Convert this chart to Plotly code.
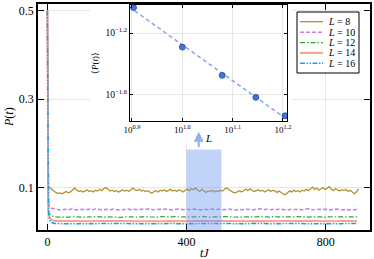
import numpy as np
import plotly.graph_objects as go

# ---------------- data ----------------
L_values = [8, 10, 12, 14, 16]
labels = ["<i>L</i> = 8", "<i>L</i> = 10", "<i>L</i> = 12", "<i>L</i> = 14", "<i>L</i> = 16"]

t8_early = [0, 1, 2, 3, 5, 8]
p8_early = [0.5, 0.28, 0.13, 0.104, 0.101, 0.099]
t8_late = np.arange(12, 895, 6)
p8_late = [
    0.097, 0.093, 0.089, 0.087, 0.088, 0.086, 0.089, 0.091, 0.088, 0.090,
    0.094, 0.099, 0.095, 0.091, 0.093, 0.090, 0.092, 0.095, 0.091, 0.093,
    0.090, 0.094, 0.092, 0.096, 0.093, 0.098, 0.100, 0.095, 0.092, 0.094,
    0.091, 0.093, 0.090, 0.092, 0.095, 0.092, 0.094, 0.091, 0.096, 0.099,
    0.095, 0.093, 0.096, 0.092, 0.094, 0.091, 0.093, 0.089, 0.087, 0.091,
    0.093, 0.090, 0.094, 0.092, 0.095, 0.091, 0.093, 0.096, 0.092, 0.094,
    0.091, 0.095, 0.093, 0.090, 0.094, 0.096, 0.093, 0.097, 0.095, 0.099,
    0.094, 0.091, 0.096, 0.092, 0.089, 0.093, 0.091, 0.094, 0.090, 0.093,
    0.091, 0.094, 0.092, 0.097, 0.099, 0.095, 0.092, 0.089, 0.088, 0.091,
    0.093, 0.090, 0.094, 0.096, 0.093, 0.097, 0.094, 0.091, 0.093, 0.095,
    0.092, 0.094, 0.090, 0.093, 0.095, 0.091, 0.094, 0.092, 0.089, 0.092,
    0.088, 0.085, 0.084, 0.089, 0.092, 0.090, 0.094, 0.091, 0.093, 0.090,
    0.094, 0.092, 0.096, 0.093, 0.098, 0.101, 0.096, 0.099, 0.094, 0.097,
    0.100, 0.095, 0.098, 0.102, 0.096, 0.093, 0.097, 0.094, 0.092, 0.095,
    0.093, 0.096, 0.091, 0.094, 0.089, 0.086, 0.090, 0.097,
]

t_early = [0, 1, 2, 3, 5, 8, 12, 16]
p10_early = [0.5, 0.24, 0.11, 0.075, 0.060, 0.055, 0.053, 0.052]
p12_early = [0.5, 0.22, 0.095, 0.062, 0.045, 0.039, 0.036, 0.035]
p14_early = [0.5, 0.21, 0.085, 0.052, 0.036, 0.030, 0.027, 0.0255]
p16_early = [0.5, 0.20, 0.078, 0.046, 0.030, 0.024, 0.021, 0.0195]

t_mid = np.arange(20, 891, 10)
p10_late = [
    0.0520, 0.0505, 0.0492, 0.0510, 0.0498, 0.0515, 0.0502, 0.0490, 0.0508, 0.0496,
    0.0512, 0.0500, 0.0518, 0.0503, 0.0493, 0.0509, 0.0497, 0.0514, 0.0501, 0.0489,
    0.0506, 0.0516, 0.0499, 0.0508, 0.0494, 0.0511, 0.0503, 0.0519, 0.0505, 0.0495,
    0.0510, 0.0498, 0.0513, 0.0502, 0.0491, 0.0507, 0.0517, 0.0500, 0.0509, 0.0496,
    0.0512, 0.0504, 0.0493, 0.0508, 0.0499, 0.0515, 0.0502, 0.0510, 0.0497, 0.0506,
    0.0514, 0.0501, 0.0490, 0.0507, 0.0498, 0.0512, 0.0503, 0.0495, 0.0509, 0.0520,
    0.0504, 0.0511, 0.0497, 0.0508, 0.0501, 0.0516, 0.0499, 0.0493, 0.0510, 0.0502,
    0.0513, 0.0498, 0.0507, 0.0521, 0.0503, 0.0496, 0.0511, 0.0500, 0.0509, 0.0494,
    0.0506, 0.0515, 0.0501, 0.0498, 0.0512, 0.0504, 0.0495, 0.0508,
]
p12_late = [
    0.0342, 0.0333, 0.0328, 0.0337, 0.0331, 0.0340, 0.0334, 0.0327, 0.0336, 0.0330,
    0.0339, 0.0332, 0.0343, 0.0335, 0.0329, 0.0338, 0.0333, 0.0341, 0.0330, 0.0326,
    0.0335, 0.0340, 0.0332, 0.0337, 0.0328, 0.0336, 0.0342, 0.0334, 0.0330, 0.0338,
    0.0333, 0.0341, 0.0335, 0.0327, 0.0336, 0.0344, 0.0332, 0.0337, 0.0329, 0.0339,
    0.0334, 0.0330, 0.0338, 0.0342, 0.0333, 0.0328, 0.0336, 0.0340, 0.0331, 0.0337,
    0.0343, 0.0334, 0.0329, 0.0338, 0.0332, 0.0340, 0.0335, 0.0327, 0.0336, 0.0341,
    0.0333, 0.0338, 0.0330, 0.0344, 0.0336, 0.0331, 0.0339, 0.0334, 0.0328, 0.0337,
    0.0342, 0.0333, 0.0339, 0.0331, 0.0336, 0.0343, 0.0335, 0.0329, 0.0338, 0.0332,
    0.0340, 0.0334, 0.0337, 0.0330, 0.0341, 0.0335, 0.0339, 0.0333,
]

t_coarse = np.arange(20, 891, 15)
p14_late = [
    0.0245, 0.0242, 0.0239, 0.0243, 0.0240, 0.0244, 0.0241, 0.0238, 0.0242, 0.0245,
    0.0240, 0.0243, 0.0239, 0.0242, 0.0244, 0.0240, 0.0238, 0.0243, 0.0241, 0.0245,
    0.0242, 0.0239, 0.0244, 0.0240, 0.0243, 0.0241, 0.0238, 0.0242, 0.0245, 0.0240,
    0.0243, 0.0239, 0.0241, 0.0244, 0.0242, 0.0238, 0.0243, 0.0240, 0.0245, 0.0241,
    0.0239, 0.0242, 0.0244, 0.0240, 0.0243, 0.0238, 0.0241, 0.0245, 0.0242, 0.0239,
    0.0243, 0.0240, 0.0244, 0.0241, 0.0238, 0.0242, 0.0245, 0.0240, 0.0243,
]
p16_late = [
    0.0187, 0.0184, 0.0181, 0.0185, 0.0182, 0.0186, 0.0183, 0.0180, 0.0184, 0.0187,
    0.0182, 0.0185, 0.0181, 0.0184, 0.0186, 0.0182, 0.0180, 0.0185, 0.0183, 0.0187,
    0.0184, 0.0181, 0.0186, 0.0182, 0.0185, 0.0183, 0.0180, 0.0184, 0.0187, 0.0182,
    0.0185, 0.0181, 0.0183, 0.0186, 0.0184, 0.0180, 0.0185, 0.0182, 0.0187, 0.0183,
    0.0181, 0.0184, 0.0186, 0.0182, 0.0185, 0.0180, 0.0183, 0.0187, 0.0184, 0.0181,
    0.0185, 0.0182, 0.0186, 0.0183, 0.0180, 0.0184, 0.0187, 0.0182, 0.0185,
]

# inset: time-averaged <P(t)> vs L
avg_P = [0.0923, 0.0511, 0.0335, 0.0241, 0.0183]

# shaded averaging window
window = [400, 500]

# ---------------- styles ----------------
colors = ["#b5912a", "#c77fe0", "#3aa040", "#f7a38f", "#1a9ef0"]
dashes = ["solid", "4px,2px", "5px,2px,1.5px,2px", "solid", "5px,1.5px,1.5px,1.5px,1.5px,1.5px"]
widths = [1.3, 1.5, 1.2, 2.0, 1.5]

series_t = [
    np.concatenate([t8_early, t8_late]),
    np.concatenate([t_early, t_mid]),
    np.concatenate([t_early, t_mid]),
    np.concatenate([t_early, t_coarse]),
    np.concatenate([t_early, t_coarse]),
]
series_p = [
    p8_early + p8_late,
    p10_early + p10_late,
    p12_early + p12_late,
    p14_early + p14_late,
    p16_early + p16_late,
]

FONT = "Liberation Serif"
fig = go.Figure()

for t, p, c, d, w in zip(series_t, series_p, colors, dashes, widths):
    fig.add_trace(go.Scatter(x=t, y=p, mode="lines", line=dict(color=c, dash=d, width=w),
                             showlegend=False, hoverinfo="skip", xaxis="x", yaxis="y"))

# white backing panel for the inset (covers main plot behind it)
fig.add_trace(go.Scatter(x=[0, 1, 1, 0, 0], y=[0, 0, 1, 1, 0], mode="lines", fill="toself",
                         fillcolor="white", line=dict(width=0, color="white"),
                         showlegend=False, hoverinfo="skip", xaxis="x2", yaxis="y2"))

# inset fit line and points
logL = np.log10(L_values)
logP = np.log10(avg_P)
slope, icpt = np.polyfit(logL, logP, 1)
xf = np.array([0.86, 1.24])
fig.add_trace(go.Scatter(x=10 ** xf, y=10 ** (icpt + slope * xf), mode="lines",
                         line=dict(color="#80a6f0", dash="4px,3px", width=1.5),
                         showlegend=False, hoverinfo="skip", xaxis="x3", yaxis="y3"))
fig.add_trace(go.Scatter(x=L_values, y=avg_P, mode="markers",
                         marker=dict(color="#4472d8", size=6, line=dict(color="#2a4c9c", width=0.8)),
                         showlegend=False, hoverinfo="skip", xaxis="x3", yaxis="y3"))

axis_common = dict(showline=True, linecolor="black", mirror="ticks", ticks="inside",
                   tickcolor="black", showgrid=True, gridcolor="#e6e6e6", gridwidth=1,
                   zeroline=False, automargin=False)

fig.update_layout(
    width=374, height=259,
    margin=dict(l=38, r=4, t=4, b=29, autoexpand=False),
    paper_bgcolor="white", plot_bgcolor="white",
    font=dict(family=FONT, size=12, color="black"),
    showlegend=False,
    xaxis=dict(domain=[0, 1], range=[-27, 927], tickvals=[0, 400, 800],
               ticklen=6, tickwidth=1.2, linewidth=1.5, anchor="y",
               tickfont=dict(size=12), **axis_common),
    yaxis=dict(domain=[0, 1], range=[0.004, 0.515], tickvals=[0.1, 0.3, 0.5],
               ticktext=["0.1", "0.3", "0.5"], ticklen=6, tickwidth=1.2, linewidth=1.5,
               anchor="x", tickfont=dict(size=12), **axis_common),
    xaxis2=dict(domain=[0.157, 0.765], range=[0, 1], visible=False, anchor="y2", fixedrange=True),
    yaxis2=dict(domain=[0.385, 0.9956], range=[0, 1], visible=False, anchor="x2", fixedrange=True),
    xaxis3=dict(type="log", domain=[0.277, 0.750], range=[0.896, 1.208], anchor="y3",
                tickvals=[10 ** 0.9, 10 ** 1.0, 10 ** 1.1, 10 ** 1.2],
                ticktext=["10<sup>0.9</sup>", "10<sup>1.0</sup>", "10<sup>1.1</sup>", "10<sup>1.2</sup>"],
                ticklen=3, tickwidth=1, linewidth=1.2, tickfont=dict(size=9), **axis_common),
    yaxis3=dict(type="log", domain=[0.482, 0.9956], range=[-1.772, -1.018], anchor="x3",
                tickvals=[10 ** -1.6, 10 ** -1.2],
                ticktext=["10<sup>\u22121.6</sup>", "10<sup>\u22121.2</sup>"],
                ticklen=3, tickwidth=1, linewidth=1.2, tickfont=dict(size=9.5),
                **axis_common),
)


def px_x(px):
    return (px - 38) / 332.0


def px_y(py):
    return (230 - py) / 226.0


# axis titles
fig.add_annotation(x=px_x(204), y=px_y(244), xref="paper", yref="paper", text="<i>tJ</i>",
                   showarrow=False, xanchor="center", yanchor="top",
                   font=dict(family=FONT, size=12, color="black"))
fig.add_annotation(x=px_x(9), y=px_y(117), xref="paper", yref="paper",
                   text="<i>P</i>(<i>t</i>)", textangle=-90, showarrow=False,
                   xanchor="center", yanchor="middle", font=dict(family=FONT, size=12, color="black"))
fig.add_annotation(x=px_x(95), y=px_y(63), xref="paper", yref="paper",
                   text="\u27e8<i>P</i>(<i>t</i>)\u27e9", textangle=-90, showarrow=False,
                   xanchor="center", yanchor="middle", font=dict(family=FONT, size=9, color="black"))

# shaded averaging window
fig.add_shape(type="rect", xref="x", yref="y", x0=window[0], x1=window[1], y0=0.0, y1=0.186,
              fillcolor="rgba(110,150,240,0.42)", line=dict(width=0), layer="above")

# arrow with L
fig.add_annotation(x=435, y=0.226, ax=435, ay=0.188, xref="x", yref="y", axref="x", ayref="y",
                   text="", showarrow=True, arrowhead=2, arrowsize=1, arrowwidth=2,
                   arrowcolor="#8fb0f2")
fig.add_annotation(x=462, y=0.212, xref="x", yref="y", text="<i>L</i>", showarrow=False,
                   font=dict(family=FONT, size=11, color="black"))

# custom compact legend
fig.add_shape(type="rect", xref="paper", yref="paper", x0=px_x(297), x1=px_x(359),
              y0=px_y(73), y1=px_y(12), fillcolor="white", line=dict(color="black", width=1),
              layer="above")
row_py = [21.7, 32.3, 42.7, 52.9, 63.3]
for lab, c, d, w, py in zip(labels, colors, dashes, widths, row_py):
    fig.add_shape(type="line", xref="paper", yref="paper", x0=px_x(300), x1=px_x(323),
                  y0=px_y(py), y1=px_y(py), line=dict(color=c, dash=d, width=w), layer="above")
    fig.add_annotation(x=px_x(326), y=px_y(py), xref="paper", yref="paper", text=lab,
                       showarrow=False, xanchor="left", yanchor="middle",
                       font=dict(family=FONT, size=10, color="black"))

fig.write_html(
    "out.html",
    config={"displayModeBar": False},
    post_script="document.body.style.margin='0px';document.body.style.overflow='hidden';",
)
